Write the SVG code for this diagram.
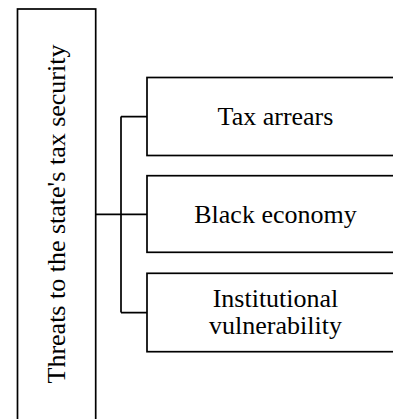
<svg xmlns="http://www.w3.org/2000/svg" width="393" height="419" viewBox="0 0 393 419">
<style>
.box{fill:#fff;stroke:#000;stroke-width:1.7}
.ln{fill:none;stroke:#000;stroke-width:1.7}
text{font-family:"Liberation Serif","Times New Roman",serif;font-size:26px;fill:#000;text-anchor:middle}
</style>
<rect width="393" height="419" fill="#fff"/>
<g id="connectors">
<path class="ln" d="M96,214.3 H147 M121,116.6 V312.6 M121,116.6 H147 M121,312.6 H147"/>
</g>
<g id="root">
<rect class="box" x="17.5" y="9" width="78.2" height="430"/>
<text transform="translate(65,214) rotate(-90)">Threats to the state's tax security</text>
</g>
<g id="n1">
<rect class="box" x="147" y="77.5" width="270" height="78"/>
<text x="275.5" y="125">Tax arrears</text>
</g>
<g id="n2">
<rect class="box" x="147" y="175.7" width="270" height="76.6"/>
<text x="275.5" y="223.3">Black economy</text>
</g>
<g id="n3">
<rect class="box" x="147" y="273.3" width="270" height="78.4"/>
<text x="275.5" y="307.3">Institutional</text>
<text x="275.5" y="334">vulnerability</text>
</g>
</svg>
